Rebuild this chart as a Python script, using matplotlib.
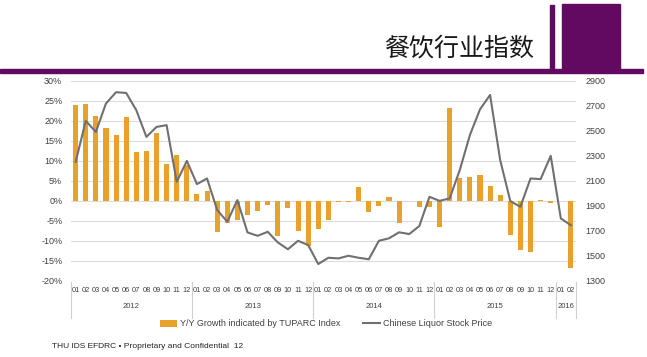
import matplotlib.pyplot as plt
from matplotlib.patches import Rectangle

# Monthly data, 2012-01 .. 2016-02
months = ['01', '02', '03', '04', '05', '06', '07', '08', '09', '10', '11', '12'] * 4 + ['01', '02']
years = ['2012', '2013', '2014', '2015', '2016']
year_len = [12, 12, 12, 12, 2]

# Y/Y growth (%) - bars, left axis
growth = [23.8, 24.1, 21.1, 18.2, 16.3, 20.8, 12.1, 12.3, 16.8, 9.1, 11.3, 9.0,
          1.6, 2.5, -7.9, -5.7, -4.8, -3.5, -2.5, -1.1, -8.9, -1.8, -7.7, -11.4,
          -7.2, -4.8, -0.4, -0.4, 3.5, -2.9, -1.4, 0.9, -5.7, 0.0, -1.7, -1.7,
          -6.7, 23.1, 5.6, 5.8, 6.5, 3.7, 1.3, -8.5, -12.3, -12.9, 0.2, -0.6,
          0.0, -16.9]

# Chinese liquor stock price - line, right axis
price = [2250, 2578, 2490, 2718, 2808, 2802, 2664, 2450, 2530, 2544, 2090, 2258,
         2072, 2117, 1864, 1771, 1944, 1685, 1658, 1690, 1605, 1550, 1618, 1584,
         1432, 1482, 1477, 1498, 1482, 1470, 1618, 1638, 1686, 1672, 1736, 1970,
         1938, 1957, 2184, 2464, 2670, 2786, 2264, 1936, 1890, 2117, 2112, 2298,
         1797, 1742]

plt.rcParams['font.family'] = ['Liberation Sans', 'DejaVu Sans']

W, H = 647, 357
fig = plt.figure(figsize=(W / 100, H / 100), dpi=100)
fig.patch.set_facecolor('white')

purple = '#620A62'
bar_color = '#E8A22C'
line_color = '#707070'
text_color = '#404040'

# Header decoration
fig.patches.append(Rectangle((0, 1 - 72.5 / H), 643 / W, 3.5 / H,
                             transform=fig.transFigure, color=purple, zorder=1))
fig.patches.append(Rectangle((550 / W, 1 - 70 / H), 4 / W, 65 / H,
                             transform=fig.transFigure, color=purple, zorder=1))
fig.patches.append(Rectangle((562 / W, 1 - 70 / H), 58 / W, 66 / H,
                             transform=fig.transFigure, color=purple, zorder=1))
fig.text(534 / W, 1 - 55 / H, '餐饮行业指数', ha='right', va='baseline',
         fontsize=18, color='#1a1a1a', family=['Noto Sans CJK SC', 'DejaVu Sans'])

ax = fig.add_axes([70.6 / W, 1 - 280.5 / H, 505.4 / W, 199.8 / H])
x = list(range(len(growth)))

bars = ax.bar(x, growth, width=0.5, color=bar_color, zorder=2,
              label='Y/Y Growth indicated by TUPARC Index')
ax.set_xlim(-0.5, len(growth) - 0.5)
ax.set_ylim(-20, 30)
ax.set_yticks(range(-20, 31, 5))
ax.set_yticklabels(['%d%%' % v for v in range(-20, 31, 5)])
ax.yaxis.grid(True, color='#dcdcdc', lw=0.8)
ax.set_axisbelow(True)
for s in ax.spines.values():
    s.set_visible(False)
ax.set_xticks(x)
ax.set_xticklabels(months, fontsize=5.3, color=text_color)
ax.tick_params(axis='x', length=0, pad=5)
ax.tick_params(axis='y', length=0, pad=6, labelsize=6.5, labelcolor=text_color)

# Year groups under month labels
tr = ax.get_xaxis_transform()
start = 0
bounds = [-0.5]
for yr, n in zip(years, year_len):
    ax.text(start + (n - 1) / 2, -0.13, yr, transform=tr, ha='center', va='center',
            fontsize=5.5, color=text_color)
    start += n
    bounds.append(start - 0.5)
for b in bounds:
    ax.plot([b, b], [-0.01, -0.19], transform=tr, color='#d0d0d0', lw=0.8, clip_on=False)

ax2 = ax.twinx()
line, = ax2.plot(x, price, color=line_color, lw=1.5, label='Chinese Liquor Stock Price')
ax2.set_ylim(1300, 2900)
ax2.set_yticks(range(1300, 2901, 200))
for s in ax2.spines.values():
    s.set_visible(False)
ax2.tick_params(axis='y', length=0, pad=7, labelsize=6.5, labelcolor=text_color)

fig.legend(handles=[bars, line], loc='center', bbox_to_anchor=(326 / W, 1 - 324 / H),
           ncol=2, frameon=False, fontsize=6.5, handlelength=1.9, handleheight=0.7,
           columnspacing=2.5, handletextpad=0.3, labelcolor=text_color)

fig.text(52 / W, 1 - 346 / H, 'THU IDS EFDRC • Proprietary and Confidential  12',
         ha='left', va='center', fontsize=6, color='#222222')

fig.savefig('out.png', dpi=100)
